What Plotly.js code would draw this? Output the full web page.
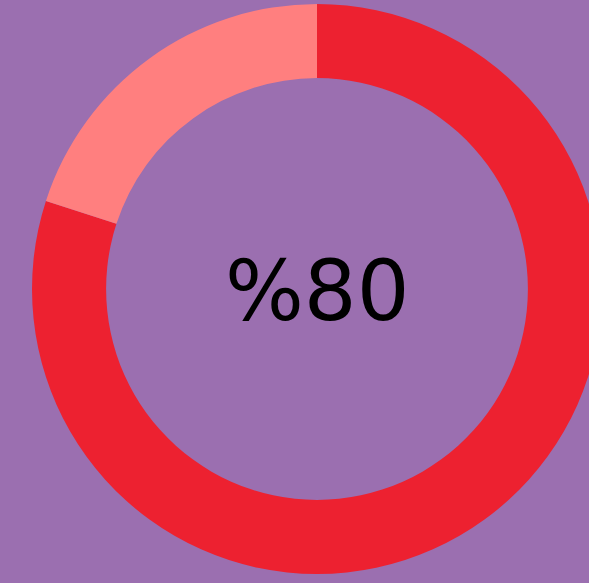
<!DOCTYPE html>
<html>
<head>
<meta charset="utf-8">
<script src="https://cdn.plot.ly/plotly-3.0.1.min.js"></script>
<style>
html,body{margin:0;padding:0;overflow:hidden;background:#9B6FB0;width:589px;height:583px;}
#chart{width:602px;height:583px;}
</style>
</head>
<body>
<div id="chart"></div>
<script>
var labels = ["Done", "Remaining"];
var values = [80, 20];
var colors = ["#ED2130", "#FF7F7F"];
var centerLabel = "%80";

var data = [{
  type: "pie",
  labels: labels,
  values: values,
  hole: 0.74,
  sort: false,
  direction: "clockwise",
  rotation: 0,
  textinfo: "none",
  hoverinfo: "none",
  marker: {colors: colors, line: {width: 0}},
  showlegend: false
}];

var layout = {
  width: 602,
  height: 583,
  margin: {l: 32, r: 0, t: 4, b: 9},
  paper_bgcolor: "#9B6FB0",
  plot_bgcolor: "#9B6FB0",
  showlegend: false,
  annotations: [{
    text: centerLabel,
    x: 0.5, y: 0.5, xref: "paper", yref: "paper",
    xanchor: "center", yanchor: "middle",
    yshift: -2,
    showarrow: false,
    font: {family: "DejaVu Sans", size: 83, color: "#000000"}
  }]
};

Plotly.newPlot("chart", data, layout, {displayModeBar: false, staticPlot: true});
</script>
</body>
</html>
